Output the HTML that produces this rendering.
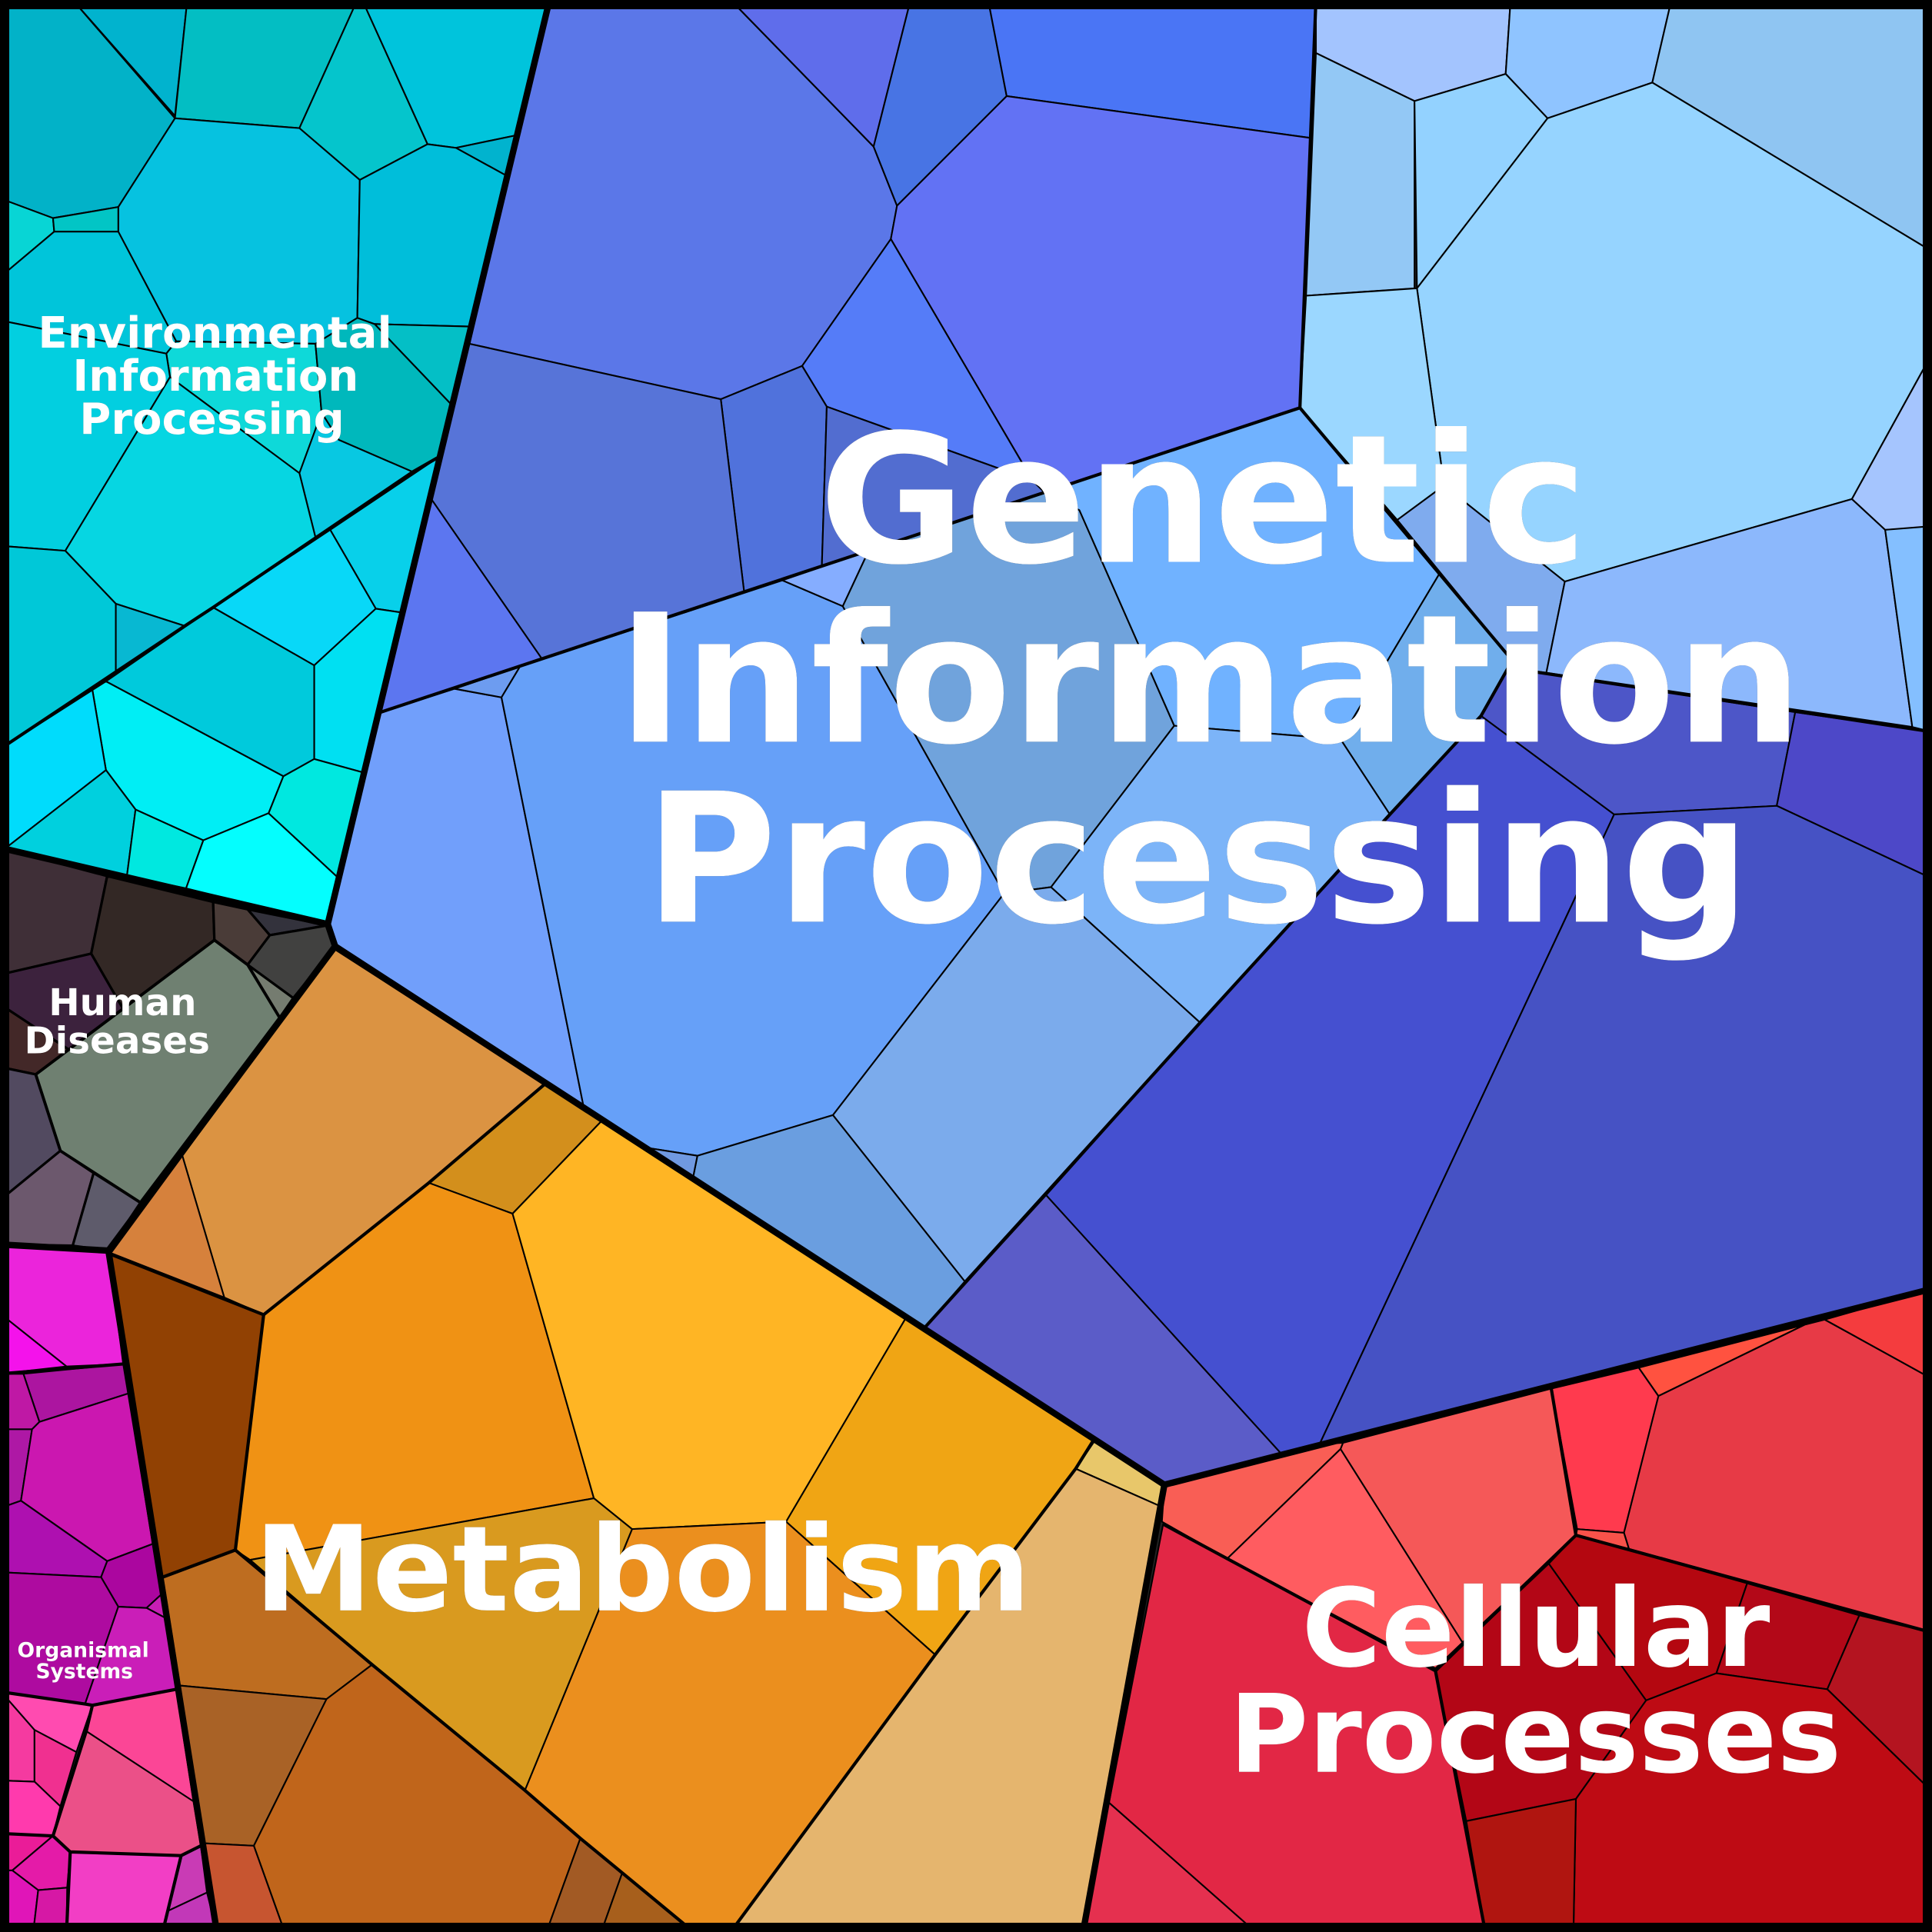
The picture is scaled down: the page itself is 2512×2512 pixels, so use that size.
<!DOCTYPE html>
<html><head><meta charset="utf-8"><title>Voronoi treemap</title>
<style>html,body{margin:0;padding:0;background:#000}svg{display:block}
text{font-family:"DejaVu Sans","Liberation Sans",sans-serif;font-weight:700;fill:#fff;text-anchor:middle}
polygon{stroke:#000;stroke-width:1.3;stroke-linejoin:round}
.m{fill:none;stroke:#000;stroke-width:2.6;stroke-linejoin:round}
.t{fill:none;stroke:#000;stroke-width:5.2;stroke-linejoin:round}</style></head>
<body>
<svg xmlns="http://www.w3.org/2000/svg" width="2512" height="2512" viewBox="0 0 1568 1568">
<rect width="1568" height="1568" fill="#222"/>
<!-- Environmental -->
<polygon fill="#02b2c8" points="0,0 59,0 142,96 96,168 43,177 0,161"/>
<polygon fill="#01b3ce" points="59,0 152,0 142,94"/>
<polygon fill="#03bec3" points="152,0 290,0 243,104 142,96"/>
<polygon fill="#05c5cc" points="290,0 294,0 347,117 292,146 243,104"/>
<polygon fill="#00c4dc" points="294,0 446,0 418,110 370,120 347,117"/>
<polygon fill="#01b3ce" points="370,120 418,110 410,142"/>
<polygon fill="#06c2e0" points="142,96 243,104 292,146 290,258 256,279 143,277 96,188 96,168"/>
<polygon fill="#00beda" points="292,146 347,117 370,120 410,142 381,265 304,263 290,258"/>
<polygon fill="#08d5d5" points="0,161 43,177 44,188 0,225"/>
<polygon fill="#02c5c5" points="43,177 96,168 96,188 44,188"/>
<polygon fill="#00c5da" points="0,225 44,188 96,188 143,277 135,287 0,260"/>
<polygon fill="#0ed9d9" points="143,277 256,279 261,335 243,384 138,306 135,287"/>
<polygon fill="#04bfc6" points="304,263 381,265 366,328"/>
<polygon fill="#00b8bc" points="256,279 290,258 304,263 366,328 356,371 335,383 275,357 261,335"/>
<polygon fill="#08c8e2" points="243,384 261,335 275,357 335,383 256,436"/>
<polygon fill="#02cfe0" points="0,260 135,287 138,306 53,447 0,443"/>
<polygon fill="#06d6e2" points="138,306 243,384 256,436 150,508 94,490 53,447"/>
<polygon fill="#00c8d8" points="0,443 53,447 94,490 94,545 0,608"/>
<polygon fill="#08b8d2" points="94,490 150,508 94,545"/>
<polygon fill="#08d0ea" points="356,371 268,430 305,494 325,497"/>
<polygon fill="#08d8f8" points="173,493 268,430 305,494 255,540"/>
<polygon fill="#00e0f2" points="305,494 325,497 295,627 255,616 255,540"/>
<polygon fill="#00cadc" points="86,553 173,493 255,540 255,616 230,630"/>
<polygon fill="#00eef5" points="75,560 86,553 230,630 218,660 165,682 110,657 86,625"/>
<polygon fill="#00dcfc" points="0,608 75,560 86,625 0,692"/>
<polygon fill="#00d0de" points="5,688 86,625 110,657 103,711"/>
<polygon fill="#00e8e0" points="110,657 165,682 151,721 103,711"/>
<polygon fill="#04fefe" points="165,682 218,660 274,712 266,750 151,721"/>
<polygon fill="#00e8e0" points="218,660 230,630 255,616 295,627 274,712"/>
<!-- Genetic top group -->
<polygon fill="#5b77e8" points="446,0 593,0 709,119 728,167 723,194 651,297 585,324 381,279"/>
<polygon fill="#5f6deb" points="593,0 739,0 709,119"/>
<polygon fill="#4874e4" points="739,0 802,0 817,78 728,167 709,119"/>
<polygon fill="#4a75f5" points="802,0 1068,0 1064,112 817,78"/>
<polygon fill="#6272f4" points="817,78 1064,112 1055,331 848,400 838,390 723,194 728,167"/>
<polygon fill="#557cf8" points="723,194 838,390 671,330 651,297"/>
<polygon fill="#5072dc" points="585,324 651,297 671,330 667,460 604,481"/>
<polygon fill="#526dd0" points="671,330 838,390 848,400 667,460"/>
<polygon fill="#5774d8" points="381,279 585,324 604,481 440,535 350,405"/>
<polygon fill="#5c76f0" points="350,405 440,535 309,578"/>
<!-- Genetic middle group -->
<polygon fill="#719ffb" points="309,578 369,559 407,566 474,900 270,768 266,750"/>
<polygon fill="#6d9cf0" points="369,559 422,541 407,566"/>
<polygon fill="#66a0f8" points="407,566 422,541 635,471 684,492 815,725 676,905 566,938 528,932 474,900"/>
<polygon fill="#85adff" points="635,471 667,460 705,447 684,492"/>
<polygon fill="#70a3dc" points="705,447 848,400 876,414 953,589 853,720 815,725 684,492"/>
<polygon fill="#70b2ff" points="876,414 848,400 1055,331 1168,466 1088,600 953,589"/>
<polygon fill="#70aeec" points="1168,466 1224,532 1224,542 1202,581 1128,661 1088,600"/>
<polygon fill="#7cb4f8" points="953,589 1088,600 1128,661 974,830 853,720"/>
<polygon fill="#7babec" points="676,905 815,725 853,720 974,830 783,1040"/>
<polygon fill="#6a9ee0" points="566,938 676,905 783,1040 750,1078 562,958"/>
<polygon fill="#7099e0" points="528,932 566,938 562,958"/>
<!-- Genetic upper right -->
<polygon fill="#a3c4fe" points="1068,0 1226,0 1222,60 1148,82 1068,43"/>
<polygon fill="#8fc4ff" points="1226,0 1356.5,0 1341,67 1256,96 1222,60"/>
<polygon fill="#8fc5f2" points="1356.5,0 1568,0 1568,204 1341,67"/>
<polygon fill="#93c8f5" points="1068,43 1148,82 1148,234 1060,240"/>
<polygon fill="#93d2ff" points="1148,82 1222,60 1256,96 1150,234"/>
<polygon fill="#96d4ff" points="1341,67 1568,204 1568,287 1503,405 1270,472 1172,394 1150,234 1256,96"/>
<polygon fill="#9bd7ff" points="1060,240 1150,234 1172,394 1134,422 1055,331"/>
<polygon fill="#7fabee" points="1134,422 1172,394 1270,472 1255,546 1224,542 1224,532"/>
<polygon fill="#8cb8fc" points="1270,472 1503,405 1530,430 1552,590 1255,546"/>
<polygon fill="#a5c5fe" points="1503,405 1568,287 1568,428 1530,430"/>
<polygon fill="#84bfff" points="1530,430 1568,427 1568,594 1552,590"/>
<!-- Genetic dark blue -->
<polygon fill="#4d56c8" points="1224,542 1457,578 1442,654 1310,661 1202,581"/>
<polygon fill="#4d48c8" points="1457,578 1568,594 1568,713 1442,654"/>
<polygon fill="#4550d0" points="1202,581 1310,661 1071,1172 1040,1180 849,970 974,830 1128,661"/>
<polygon fill="#4652c4" points="1310,661 1442,654 1568,713 1568,1046 1071,1172"/>
<polygon fill="#5b5cc8" points="849,970 1040,1180 945,1205 750,1078"/>
<!-- Metabolism -->
<polygon fill="#db9342" points="271,770 442,880 348,960 214,1067 182,1053 148,938"/>
<polygon fill="#d6813c" points="148,938 182,1053 90,1017"/>
<polygon fill="#d38f1c" points="442,880 488,910 416,985 348,960"/>
<polygon fill="#f09214" points="348,960 416,985 482,1216 203,1266 191,1258 214,1067"/>
<polygon fill="#914103" points="90,1018 214,1067 191,1258 132,1280"/>
<polygon fill="#ffb524" points="416,985 488,910 735,1070 638,1235 513,1241 482,1216"/>
<polygon fill="#f0a514" points="735,1070 888,1168 873,1192 759,1343 638,1235"/>
<polygon fill="#e8c76a" points="888,1170 945,1205 943,1223 873,1192"/>
<polygon fill="#e5b56e" points="873,1192 943,1223 879,1568 593,1568 759,1343"/>
<polygon fill="#eb8f1e" points="513,1241 638,1235 759,1343 593,1568 563,1568 505,1520 471,1492 426,1453"/>
<polygon fill="#d99a1f" points="482,1216 513,1241 426,1453 302,1351 203,1266"/>
<polygon fill="#be6d20" points="132,1280 191,1258 302,1351 265,1379 146,1368"/>
<polygon fill="#a96226" points="146,1368 265,1379 206,1498 166,1496"/>
<polygon fill="#c0651b" points="265,1379 302,1351 426,1453 471,1492 443.5,1568 231,1568 206,1498"/>
<polygon fill="#c75530" points="166,1496 206,1498 231,1568 176,1568"/>
<polygon fill="#a25a24" points="471,1492 505,1520 488,1568 443.5,1568"/>
<polygon fill="#a75f1c" points="505,1520 563,1568 488,1568"/>
<!-- Human -->
<g stroke-width="2">
<polygon fill="#3f2f37" points="0,688 87,711 74,774 0,791" style="stroke-width:2"/>
<polygon fill="#332825" points="87,711 173,732 174,763 100,819 74,774" style="stroke-width:2"/>
<polygon fill="#4a3c38" points="173,732 201,738 219,759 201,783 174,763" style="stroke-width:2"/>
<polygon fill="#33323c" points="201,738 266,751 219,759" style="stroke-width:2"/>
<polygon fill="#414140" points="219,759 266,751 272,768 238,810 201,783" style="stroke-width:2"/>
<polygon fill="#757c70" points="201,783 238,810 227,826" style="stroke-width:2"/>
<polygon fill="#3c223d" points="0,791 74,774 100,819 56,852 0,815" style="stroke-width:2"/>
<polygon fill="#432828" points="0,815 56,852 29,872 0,866" style="stroke-width:2"/>
<polygon fill="#524a60" points="0,866 29,872 49,934 0,974" style="stroke-width:2"/>
<polygon fill="#6c586d" points="0,974 49,934 76,952 59,1011 0,1010" style="stroke-width:2"/>
<polygon fill="#5e5b6b" points="76,952 114,976 88,1015 59,1011" style="stroke-width:2"/>
<polygon fill="#6f8071" style="stroke-width:2.4" points="174,763 201,783 227,826 114,976 49,934 29,872"/>
</g>
<!-- Organismal -->
<polygon fill="#eb24db" points="0,1010 88,1015 100,1107 54,1109 0,1066"/>
<polygon fill="#f412eb" points="0,1066 54,1109 0,1115"/>
<polygon fill="#ac15a0" points="19,1115 100,1107 104,1131 32,1154"/>
<polygon fill="#bf18a5" points="0,1115 19,1115 32,1154 26,1160 0,1160"/>
<polygon fill="#ae18a5" points="0,1160 26,1160 17,1218 0,1224"/>
<polygon fill="#cb17b0" points="26,1160 32,1154 104,1131 124,1253 87,1267 17,1218"/>
<polygon fill="#ae10b0" points="0,1224 17,1218 87,1267 82,1280 0,1276"/>
<polygon fill="#ab069f" points="87,1267 124,1253 131,1294 119,1305 96,1304 82,1280"/>
<polygon fill="#c81fb5" points="119,1305 131,1294 134,1313"/>
<polygon fill="#ae0ba0" points="0,1276 82,1280 96,1304 69,1383 0,1373"/>
<polygon fill="#ca1eb8" points="96,1304 119,1305 134,1313 143,1371 75,1384 69,1383"/>
<polygon fill="#ff4bb0" points="0,1373 75,1384 62,1422 28,1404 0,1372"/>
<polygon fill="#f53aa0" points="0,1372 28,1404 28,1446 0,1445"/>
<polygon fill="#f03090" points="28,1404 62,1422 49,1466 28,1446"/>
<polygon fill="#ff3aad" points="0,1445 28,1446 49,1466 43,1490 0,1488"/>
<polygon fill="#fb4696" points="75,1384 143,1371 157,1462 70,1405"/>
<polygon fill="#eb5088" points="70,1405 157,1462 163,1498 147,1506 57,1503 43,1490"/>
<polygon fill="#ea1c98" points="0,1488 43,1490 10,1518 0,1518"/>
<polygon fill="#e41ba8" points="43,1490 57,1503 54.5,1532 31,1534 10,1518"/>
<polygon fill="#e015b8" points="0,1518 10,1518 31,1534 27,1568 0,1568"/>
<polygon fill="#d618a5" points="31,1534 54.5,1532 54,1568 27,1568"/>
<polygon fill="#f23ec5" points="57,1503 147,1506 132,1568 54,1568"/>
<polygon fill="#c93bb5" points="147,1506 163,1498 168,1536 136,1551"/>
<polygon fill="#c238b8" points="136,1551 168,1536 176,1568 132,1568"/>
<!-- Cellular -->
<polygon fill="#f95e55" points="945,1205 1071,1172 1090,1171 1088,1176 996,1265 943,1235"/>
<polygon fill="#ff5c60" points="1088,1176 1187,1333 1165,1354 996,1265"/>
<polygon fill="#f55858" points="1090,1171 1259,1127 1279,1246 1187,1333 1088,1176"/>
<polygon fill="#ff3a4e" points="1259,1127 1330,1110 1346,1133 1318,1244 1280,1241"/>
<polygon fill="#ff5240" points="1330,1110 1465,1075 1346,1133"/>
<polygon fill="#e73a46" points="1346,1133 1465,1075 1481,1071 1568,1119 1568,1325 1322,1257 1318,1244"/>
<polygon fill="#f43c3e" points="1481,1071 1568,1046 1568,1119"/>
<polygon fill="#f8524a" points="1280,1241 1318,1244 1322,1257 1279,1246"/>
<polygon fill="#e22745" points="944,1237 1165,1356 1205.5,1568 1019,1568 900,1463"/>
<polygon fill="#e5304f" points="900,1463 1019,1568 879,1568"/>
<polygon fill="#b30616" points="1165,1356 1257,1269 1336,1380 1279,1460 1190,1478"/>
<polygon fill="#b40710" points="1257,1269 1279,1246 1418,1285 1393,1358 1336,1380"/>
<polygon fill="#b30818" points="1418,1285 1509,1311 1483,1371 1393,1358"/>
<polygon fill="#b41420" points="1509,1311 1568,1325 1568,1454 1483,1371"/>
<polygon fill="#be0b14" points="1336,1380 1393,1358 1483,1371 1568,1454 1568,1568 1277,1568 1279,1460"/>
<polygon fill="#b01510" points="1190,1478 1279,1460 1277,1568 1205.5,1568"/>
<!-- Medium boundaries -->
<polyline class="m" points="0,608 150,508 173,493 335,383 356,371"/>
<polyline class="m" points="1068,0 1055,331"/>
<polyline class="m" points="309,578 1055,331 1224,532 1224,542"/>
<polyline class="m" points="750,1078 974,830 1128,661 1202,581 1224,542 1568,594"/>
<polyline class="m" points="191,1258 302,1351 426,1453 471,1492 505,1520 563,1568"/>
<polyline class="m" points="132,1280 191,1258 214,1067"/>
<polyline class="m" points="90,1018 214,1067 348,960 442,880"/>
<polyline class="m" points="888,1168 873,1192 759,1343 593,1568"/>
<polyline class="m" points="0,1115 100,1107"/>
<polyline class="m" points="0,1373 69,1383 75,1384 143,1371"/>
<polyline class="m" points="75,1384 70,1405 43,1490 57,1503 147,1506 163,1498"/>
<polyline class="m" points="147,1506 132,1568"/>
<polyline class="m" points="57,1503 54,1568"/>
<polyline class="m" points="0,1488 43,1490"/>
<polyline class="m" points="944,1237 1165,1356 1205.5,1568"/>
<polyline class="m" points="1165,1356 1279,1246 1568,1325"/>
<polyline class="m" points="1259,1127 1279,1246"/>
<!-- Thick boundaries -->
<polyline class="t" points="446,0 266,750 0,688"/>
<polyline class="t" points="266,750 272,768 88,1015 0,1010"/>
<polyline class="t" points="272,768 945,1205 1568,1046"/>
<polyline class="t" points="945,1205 879,1568"/>
<polyline class="t" points="88,1015 176,1568"/>
<rect x="0" y="0" width="1568" height="1568" fill="none" stroke="#000" stroke-width="15"/>
<!-- Labels -->
<g style="filter:drop-shadow(0.9px 0.9px 0 rgba(0,0,0,.7))">
<text x="976.5" y="456" font-size="145">Genetic</text>
<text x="982" y="602" font-size="145">Information</text>
<text x="972" y="748" font-size="146">Processing</text>
<text x="521.5" y="1307" font-size="96.2">Metabolism</text>
<text x="1246.5" y="1352" font-size="88">Cellular</text>
<text x="1246" y="1438" font-size="88">Processes</text>
<text x="174.5" y="282" font-size="35">Environmental</text>
<text x="175" y="317" font-size="35">Information</text>
<text x="172" y="352" font-size="35">Processing</text>
<text x="99.5" y="824" font-size="30.2">Human</text>
<text x="95" y="855" font-size="30.2">Diseases</text>
<text x="67.5" y="1345" font-size="16.6">Organismal</text>
<text x="68.5" y="1362" font-size="16.6">Systems</text>
</g>
</svg>
</body></html>
